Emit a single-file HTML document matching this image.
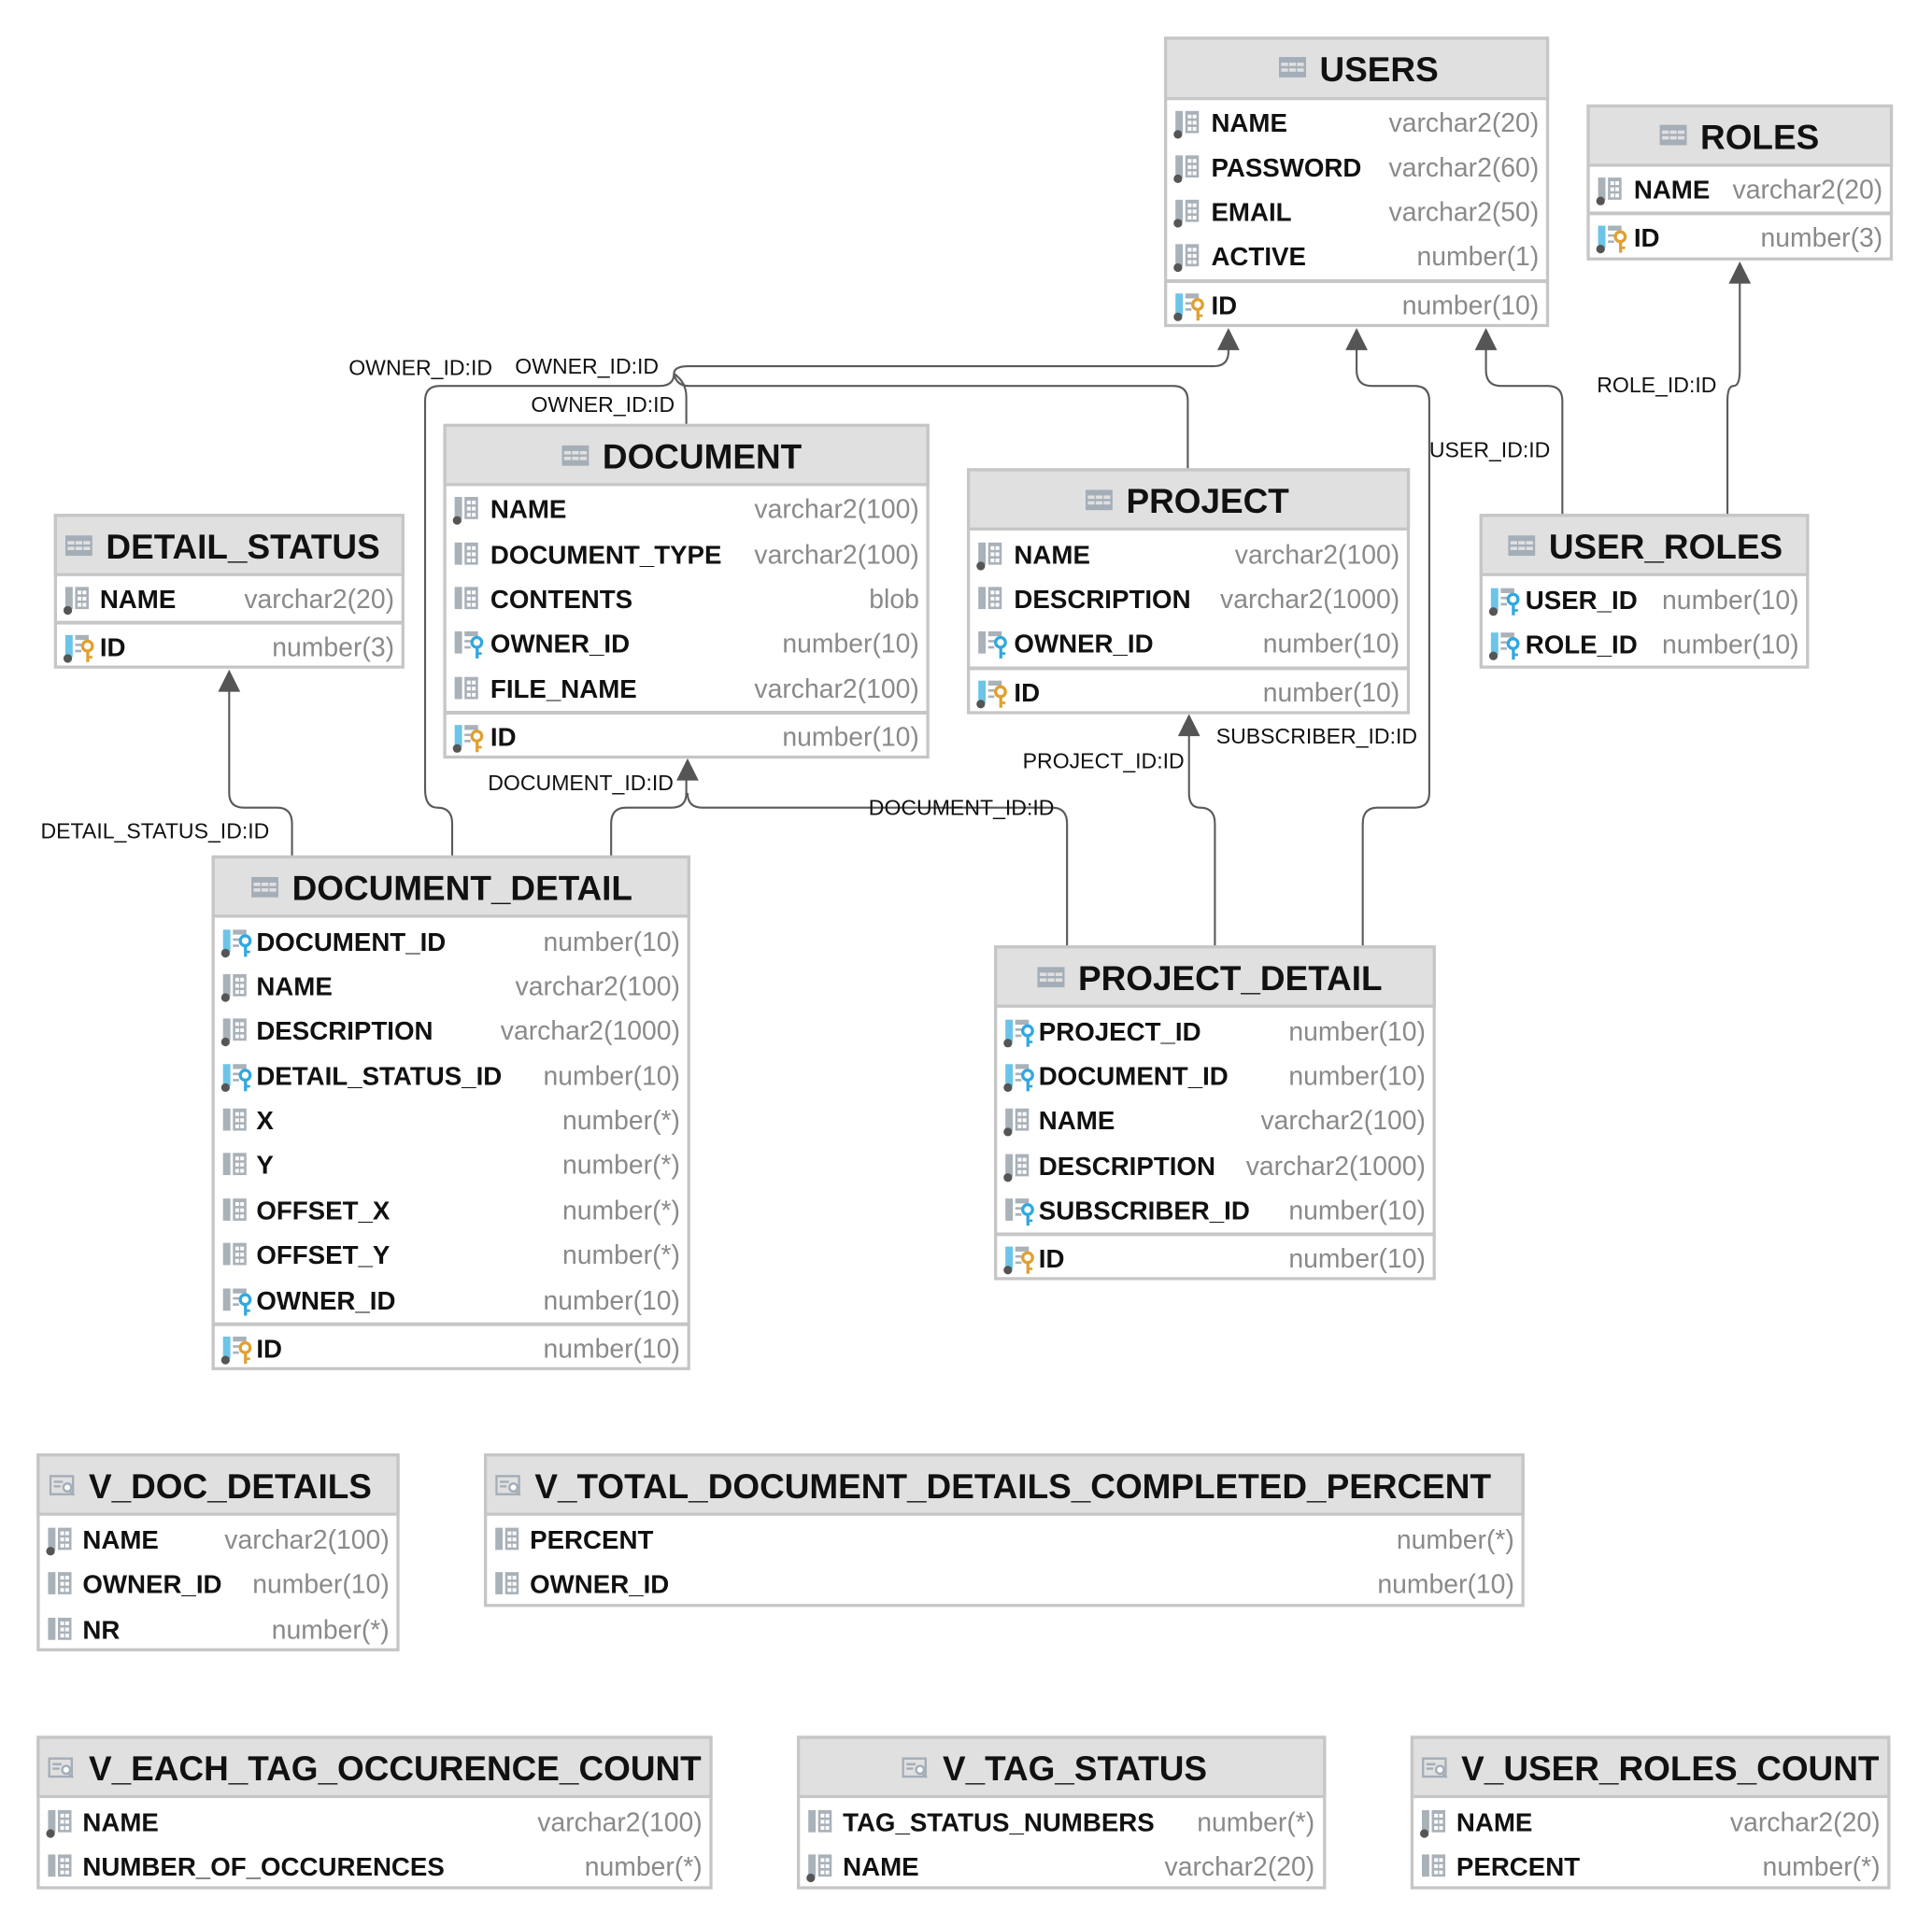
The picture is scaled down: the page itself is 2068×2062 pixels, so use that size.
<!DOCTYPE html>
<html><head><meta charset="utf-8"><style>
html,body{margin:0;padding:0;background:#fff}
svg{display:block}
.t{font-family:"Liberation Sans",sans-serif;font-weight:bold;font-size:28px;fill:#111}
.n{font-family:"Liberation Sans",sans-serif;font-weight:bold;font-size:21px;fill:#111}
.y{font-family:"Liberation Sans",sans-serif;font-size:21.5px;fill:#8a8a8a;text-anchor:end}
.l{font-family:"Liberation Sans",sans-serif;font-size:17.5px;fill:#111}
.box{fill:#fff;stroke:#c6c6c6;stroke-width:2.5}
.hd{fill:#e0e0e0;stroke:#c6c6c6;stroke-width:2.5}
.sep{stroke:#c6c6c6;stroke-width:3}
.c{fill:none;stroke:#5a5a5a;stroke-width:1.6}
</style></head><body>
<svg width="2068" height="2062" viewBox="0 0 1568 1562" preserveAspectRatio="none" xmlns="http://www.w3.org/2000/svg">
<defs>
<symbol id="tb" viewBox="0 0 24 18"><rect x="0" y="0" width="24" height="18" fill="#a4aeb8"/><g fill="#e0e0e0"><rect x="2" y="5" width="6" height="3"/><rect x="9" y="5" width="6" height="3"/><rect x="16" y="5" width="6" height="3"/><rect x="2" y="10" width="6" height="3"/><rect x="9" y="10" width="6" height="3"/><rect x="16" y="10" width="6" height="3"/></g></symbol>
<symbol id="vw" viewBox="0 0 24 18"><rect x="1" y="1" width="20" height="16" fill="none" stroke="#a4aeb8" stroke-width="2"/><line x1="4" y1="6" x2="12" y2="6" stroke="#a4aeb8" stroke-width="2"/><line x1="4" y1="10" x2="10" y2="10" stroke="#a4aeb8" stroke-width="2"/><circle cx="16" cy="11" r="3.5" fill="#fff" stroke="#a4aeb8" stroke-width="2"/><line x1="18" y1="14" x2="22" y2="18" stroke="#a4aeb8" stroke-width="2"/></symbol>
<symbol id="cd" viewBox="0 0 26 24"><rect x="2" y="1" width="6" height="18" fill="#a9b1b9"/><rect x="10" y="1" width="11" height="18" fill="#a9b1b9"/><g fill="#fff"><rect x="12" y="4" width="3" height="3"/><rect x="16" y="4" width="3" height="3"/><rect x="12" y="9" width="3" height="3"/><rect x="16" y="9" width="3" height="3"/><rect x="12" y="14" width="3" height="3"/><rect x="16" y="14" width="3" height="3"/></g><circle cx="4" cy="20" r="3.5" fill="#555"/></symbol>
<symbol id="c" viewBox="0 0 26 24"><rect x="2" y="1" width="6" height="18" fill="#a9b1b9"/><rect x="10" y="1" width="11" height="18" fill="#a9b1b9"/><g fill="#fff"><rect x="12" y="4" width="3" height="3"/><rect x="16" y="4" width="3" height="3"/><rect x="12" y="9" width="3" height="3"/><rect x="16" y="9" width="3" height="3"/><rect x="12" y="14" width="3" height="3"/><rect x="16" y="14" width="3" height="3"/></g></symbol>
<symbol id="pk" viewBox="0 0 26 24"><rect x="2" y="1" width="6" height="18" fill="#6cc4e8"/><rect x="10" y="1" width="11" height="4" fill="#a9b1b9"/><rect x="10" y="8" width="5" height="2" fill="#a9b1b9"/><rect x="10" y="13" width="5" height="2" fill="#a9b1b9"/><circle cx="20" cy="10" r="4" fill="none" stroke="#e0a030" stroke-width="2.5"/><rect x="19" y="13" width="2.5" height="10" fill="#e0a030"/><rect x="21" y="18" width="3" height="2" fill="#e0a030"/><circle cx="4" cy="20" r="3.5" fill="#555"/></symbol>
<symbol id="fk" viewBox="0 0 26 24"><rect x="2" y="1" width="6" height="18" fill="#a9b1b9"/><rect x="10" y="1" width="11" height="4" fill="#a9b1b9"/><rect x="10" y="8" width="5" height="2" fill="#a9b1b9"/><rect x="10" y="13" width="5" height="2" fill="#a9b1b9"/><circle cx="20" cy="10" r="4" fill="none" stroke="#30a8e0" stroke-width="2.5"/><rect x="19" y="13" width="2.5" height="10" fill="#30a8e0"/><rect x="21" y="18" width="3" height="2" fill="#30a8e0"/></symbol>
<symbol id="fkd" viewBox="0 0 26 24"><rect x="2" y="1" width="6" height="18" fill="#6cc4e8"/><rect x="10" y="1" width="11" height="4" fill="#a9b1b9"/><rect x="10" y="8" width="5" height="2" fill="#a9b1b9"/><rect x="10" y="13" width="5" height="2" fill="#a9b1b9"/><circle cx="20" cy="10" r="4" fill="none" stroke="#30a8e0" stroke-width="2.5"/><rect x="19" y="13" width="2.5" height="10" fill="#30a8e0"/><rect x="21" y="18" width="3" height="2" fill="#30a8e0"/><circle cx="4" cy="20" r="3.5" fill="#555"/></symbol>
</defs>

<g class="c">
<path d="M367,695 V668 Q367,655 355,655 Q345,655 345,640 V325 Q345,313 357,313 H535 Q547,313 547,303 Q547,297 559,297 H985 Q997,297 997,285 V272"/>
<path d="M557,345 V322 Q557,310 547,303"/>
<path d="M964,381 V325 Q964,313 952,313 H559 Q549,313 547,303"/>
<path d="M1106,768 V668 Q1106,655 1118,655 H1148 Q1160,655 1160,643 V325 Q1160,313 1148,313 H1113 Q1101,313 1101,300 V272"/>
<path d="M1268,418 V325 Q1268,313 1256,313 H1218 Q1206,313 1206,300 V272"/>
<path d="M1402,418 V325 Q1402,313 1407,313 Q1412,313 1412,300 V218"/>
<path d="M237,695 V668 Q237,655 225,655 H198 Q186,655 186,643 V548"/>
<path d="M496,695 V668 Q496,655 508,655 H545 Q557,655 557,643 V620"/>
<path d="M866,768 V668 Q866,655 854,655 H570 Q558,655 558,643"/>
<path d="M986,768 V668 Q986,655 974,655 Q965,655 965,643 V584"/>
</g>
<g fill="#555">
<path d="M997,266 l-9,18 h18z"/>
<path d="M1101,266 l-9,18 h18z"/>
<path d="M1206,266 l-9,18 h18z"/>
<path d="M1412,212 l-9,18 h18z"/>
<path d="M186,543 l-9,18 h18z"/>
<path d="M558,615 l-9,18 h18z"/>
<path d="M965,579 l-9,18 h18z"/>
</g>
<g class="l">
<text x="283" y="304">OWNER_ID:ID</text>
<text x="418" y="303">OWNER_ID:ID</text>
<text x="431" y="334">OWNER_ID:ID</text>
<text x="1160" y="371">USER_ID:ID</text>
<text x="1296" y="318">ROLE_ID:ID</text>
<text x="33" y="680">DETAIL_STATUS_ID:ID</text>
<text x="396" y="641">DOCUMENT_ID:ID</text>
<text x="705" y="661">DOCUMENT_ID:ID</text>
<text x="830" y="623">PROJECT_ID:ID</text>
<text x="987" y="603">SUBSCRIBER_ID:ID</text>
</g>

<rect class="box" x="946" y="31" width="310" height="233"/><rect class="hd" x="946" y="31" width="310" height="49"/>
<use href="#tb" x="1038" y="46" width="22" height="17"/><text class="t" x="1071" y="66">USERS</text>
<use href="#cd" x="952" y="89" width="26" height="24"/><text class="n" x="983" y="107">NAME</text><text class="y" x="1249" y="107">varchar2(20)</text>
<use href="#cd" x="952" y="125" width="26" height="24"/><text class="n" x="983" y="143">PASSWORD</text><text class="y" x="1249" y="143">varchar2(60)</text>
<use href="#cd" x="952" y="161" width="26" height="24"/><text class="n" x="983" y="179">EMAIL</text><text class="y" x="1249" y="179">varchar2(50)</text>
<use href="#cd" x="952" y="197" width="26" height="24"/><text class="n" x="983" y="215">ACTIVE</text><text class="y" x="1249" y="215">number(1)</text>
<line class="sep" x1="946" y1="228" x2="1256" y2="228"/>
<use href="#pk" x="952" y="237" width="26" height="24"/><text class="n" x="983" y="255">ID</text><text class="y" x="1249" y="255">number(10)</text>

<rect class="box" x="1289" y="86" width="246" height="124"/><rect class="hd" x="1289" y="86" width="246" height="48"/>
<use href="#tb" x="1347" y="101" width="22" height="17"/><text class="t" x="1380" y="121">ROLES</text>
<use href="#cd" x="1295" y="143" width="26" height="24"/><text class="n" x="1326" y="161">NAME</text><text class="y" x="1528" y="161">varchar2(20)</text>
<line class="sep" x1="1289" y1="173" x2="1535" y2="173"/>
<use href="#pk" x="1295" y="182" width="26" height="24"/><text class="n" x="1326" y="200">ID</text><text class="y" x="1528" y="200">number(3)</text>

<rect class="box" x="361" y="345" width="392" height="269"/><rect class="hd" x="361" y="345" width="392" height="48"/>
<use href="#tb" x="456" y="361" width="22" height="17"/><text class="t" x="489" y="380">DOCUMENT</text>
<use href="#cd" x="367" y="402" width="26" height="24"/><text class="n" x="398" y="420">NAME</text><text class="y" x="746" y="420">varchar2(100)</text>
<use href="#c" x="367" y="439" width="26" height="24"/><text class="n" x="398" y="457">DOCUMENT_TYPE</text><text class="y" x="746" y="457">varchar2(100)</text>
<use href="#c" x="367" y="475" width="26" height="24"/><text class="n" x="398" y="493">CONTENTS</text><text class="y" x="746" y="493">blob</text>
<use href="#fk" x="367" y="511" width="26" height="24"/><text class="n" x="398" y="529">OWNER_ID</text><text class="y" x="746" y="529">number(10)</text>
<use href="#c" x="367" y="548" width="26" height="24"/><text class="n" x="398" y="566">FILE_NAME</text><text class="y" x="746" y="566">varchar2(100)</text>
<line class="sep" x1="361" y1="578" x2="753" y2="578"/>
<use href="#pk" x="367" y="587" width="26" height="24"/><text class="n" x="398" y="605">ID</text><text class="y" x="746" y="605">number(10)</text>

<rect class="box" x="786" y="381" width="357" height="197"/><rect class="hd" x="786" y="381" width="357" height="48"/>
<use href="#tb" x="881" y="397" width="22" height="17"/><text class="t" x="914" y="416">PROJECT</text>
<use href="#cd" x="792" y="439" width="26" height="24"/><text class="n" x="823" y="457">NAME</text><text class="y" x="1136" y="457">varchar2(100)</text>
<use href="#c" x="792" y="475" width="26" height="24"/><text class="n" x="823" y="493">DESCRIPTION</text><text class="y" x="1136" y="493">varchar2(1000)</text>
<use href="#fk" x="792" y="511" width="26" height="24"/><text class="n" x="823" y="529">OWNER_ID</text><text class="y" x="1136" y="529">number(10)</text>
<line class="sep" x1="786" y1="542" x2="1143" y2="542"/>
<use href="#pk" x="792" y="551" width="26" height="24"/><text class="n" x="823" y="569">ID</text><text class="y" x="1136" y="569">number(10)</text>

<rect class="box" x="45" y="418" width="282" height="123"/><rect class="hd" x="45" y="418" width="282" height="48"/>
<use href="#tb" x="53" y="434" width="22" height="17"/><text class="t" x="86" y="453">DETAIL_STATUS</text>
<use href="#cd" x="51" y="475" width="26" height="24"/><text class="n" x="81" y="493">NAME</text><text class="y" x="320" y="493">varchar2(20)</text>
<line class="sep" x1="45" y1="505" x2="327" y2="505"/>
<use href="#pk" x="51" y="514" width="26" height="24"/><text class="n" x="81" y="532">ID</text><text class="y" x="320" y="532">number(3)</text>

<rect class="box" x="1202" y="418" width="265" height="123"/><rect class="hd" x="1202" y="418" width="265" height="48"/>
<use href="#tb" x="1224" y="434" width="22" height="17"/><text class="t" x="1257" y="453">USER_ROLES</text>
<use href="#fkd" x="1208" y="476" width="26" height="24"/><text class="n" x="1238" y="494">USER_ID</text><text class="y" x="1460" y="494">number(10)</text>
<use href="#fkd" x="1208" y="512" width="26" height="24"/><text class="n" x="1238" y="530">ROLE_ID</text><text class="y" x="1460" y="530">number(10)</text>

<rect class="box" x="173" y="695" width="386" height="415"/><rect class="hd" x="173" y="695" width="386" height="48"/>
<use href="#tb" x="204" y="711" width="22" height="17"/><text class="t" x="237" y="730">DOCUMENT_DETAIL</text>
<use href="#fkd" x="179" y="753" width="26" height="24"/><text class="n" x="208" y="771">DOCUMENT_ID</text><text class="y" x="552" y="771">number(10)</text>
<use href="#cd" x="179" y="789" width="26" height="24"/><text class="n" x="208" y="807">NAME</text><text class="y" x="552" y="807">varchar2(100)</text>
<use href="#cd" x="179" y="825" width="26" height="24"/><text class="n" x="208" y="843">DESCRIPTION</text><text class="y" x="552" y="843">varchar2(1000)</text>
<use href="#fkd" x="179" y="862" width="26" height="24"/><text class="n" x="208" y="880">DETAIL_STATUS_ID</text><text class="y" x="552" y="880">number(10)</text>
<use href="#c" x="179" y="898" width="26" height="24"/><text class="n" x="208" y="916">X</text><text class="y" x="552" y="916">number(*)</text>
<use href="#c" x="179" y="934" width="26" height="24"/><text class="n" x="208" y="952">Y</text><text class="y" x="552" y="952">number(*)</text>
<use href="#c" x="179" y="971" width="26" height="24"/><text class="n" x="208" y="989">OFFSET_X</text><text class="y" x="552" y="989">number(*)</text>
<use href="#c" x="179" y="1007" width="26" height="24"/><text class="n" x="208" y="1025">OFFSET_Y</text><text class="y" x="552" y="1025">number(*)</text>
<use href="#fk" x="179" y="1044" width="26" height="24"/><text class="n" x="208" y="1062">OWNER_ID</text><text class="y" x="552" y="1062">number(10)</text>
<line class="sep" x1="173" y1="1074" x2="559" y2="1074"/>
<use href="#pk" x="179" y="1083" width="26" height="24"/><text class="n" x="208" y="1101">ID</text><text class="y" x="552" y="1101">number(10)</text>

<rect class="box" x="808" y="768" width="356" height="269"/><rect class="hd" x="808" y="768" width="356" height="48"/>
<use href="#tb" x="842" y="784" width="22" height="17"/><text class="t" x="875" y="803">PROJECT_DETAIL</text>
<use href="#fkd" x="814" y="826" width="26" height="24"/><text class="n" x="843" y="844">PROJECT_ID</text><text class="y" x="1157" y="844">number(10)</text>
<use href="#fkd" x="814" y="862" width="26" height="24"/><text class="n" x="843" y="880">DOCUMENT_ID</text><text class="y" x="1157" y="880">number(10)</text>
<use href="#cd" x="814" y="898" width="26" height="24"/><text class="n" x="843" y="916">NAME</text><text class="y" x="1157" y="916">varchar2(100)</text>
<use href="#cd" x="814" y="935" width="26" height="24"/><text class="n" x="843" y="953">DESCRIPTION</text><text class="y" x="1157" y="953">varchar2(1000)</text>
<use href="#fk" x="814" y="971" width="26" height="24"/><text class="n" x="843" y="989">SUBSCRIBER_ID</text><text class="y" x="1157" y="989">number(10)</text>
<line class="sep" x1="808" y1="1001" x2="1164" y2="1001"/>
<use href="#pk" x="814" y="1010" width="26" height="24"/><text class="n" x="843" y="1028">ID</text><text class="y" x="1157" y="1028">number(10)</text>

<rect class="box" x="31" y="1180" width="292" height="158"/><rect class="hd" x="31" y="1180" width="292" height="48"/>
<use href="#vw" x="40" y="1196" width="22" height="17"/><text class="t" x="72" y="1215">V_DOC_DETAILS</text>
<use href="#cd" x="37" y="1238" width="26" height="24"/><text class="n" x="67" y="1256">NAME</text><text class="y" x="316" y="1256">varchar2(100)</text>
<use href="#c" x="37" y="1274" width="26" height="24"/><text class="n" x="67" y="1292">OWNER_ID</text><text class="y" x="316" y="1292">number(10)</text>
<use href="#c" x="37" y="1311" width="26" height="24"/><text class="n" x="67" y="1329">NR</text><text class="y" x="316" y="1329">number(*)</text>

<rect class="box" x="394" y="1180" width="842" height="122"/><rect class="hd" x="394" y="1180" width="842" height="48"/>
<use href="#vw" x="402" y="1196" width="22" height="17"/><text class="t" x="434" y="1215">V_TOTAL_DOCUMENT_DETAILS_COMPLETED_PERCENT</text>
<use href="#c" x="400" y="1238" width="26" height="24"/><text class="n" x="430" y="1256">PERCENT</text><text class="y" x="1229" y="1256">number(*)</text>
<use href="#c" x="400" y="1274" width="26" height="24"/><text class="n" x="430" y="1292">OWNER_ID</text><text class="y" x="1229" y="1292">number(10)</text>

<rect class="box" x="31" y="1409" width="546" height="122"/><rect class="hd" x="31" y="1409" width="546" height="48"/>
<use href="#vw" x="39" y="1425" width="22" height="17"/><text class="t" x="72" y="1444">V_EACH_TAG_OCCURENCE_COUNT</text>
<use href="#cd" x="37" y="1467" width="26" height="24"/><text class="n" x="67" y="1485">NAME</text><text class="y" x="570" y="1485">varchar2(100)</text>
<use href="#c" x="37" y="1503" width="26" height="24"/><text class="n" x="67" y="1521">NUMBER_OF_OCCURENCES</text><text class="y" x="570" y="1521">number(*)</text>

<rect class="box" x="648" y="1409" width="427" height="122"/><rect class="hd" x="648" y="1409" width="427" height="48"/>
<use href="#vw" x="732" y="1425" width="22" height="17"/><text class="t" x="765" y="1444">V_TAG_STATUS</text>
<use href="#c" x="654" y="1467" width="26" height="24"/><text class="n" x="684" y="1485">TAG_STATUS_NUMBERS</text><text class="y" x="1067" y="1485">number(*)</text>
<use href="#cd" x="654" y="1503" width="26" height="24"/><text class="n" x="684" y="1521">NAME</text><text class="y" x="1067" y="1521">varchar2(20)</text>

<rect class="box" x="1146" y="1409" width="387" height="122"/><rect class="hd" x="1146" y="1409" width="387" height="48"/>
<use href="#vw" x="1154" y="1425" width="22" height="17"/><text class="t" x="1186" y="1444">V_USER_ROLES_COUNT</text>
<use href="#cd" x="1152" y="1467" width="26" height="24"/><text class="n" x="1182" y="1485">NAME</text><text class="y" x="1526" y="1485">varchar2(20)</text>
<use href="#c" x="1152" y="1503" width="26" height="24"/><text class="n" x="1182" y="1521">PERCENT</text><text class="y" x="1526" y="1521">number(*)</text>
</svg>
</body></html>
